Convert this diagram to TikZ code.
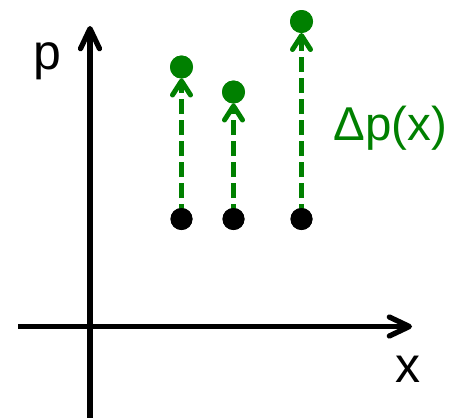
\documentclass[tikz,border=0pt]{standalone}
\usepackage{fontspec}
\setmainfont{Liberation Sans}
\usetikzlibrary{arrows.meta}
\definecolor{dgreen}{HTML}{008000}
\begin{document}
\begin{tikzpicture}[x=1pt,y=-1pt,
  axis/.style={line width=5.3pt, -{Straight Barb[length=20pt,width=19pt,round]}},
  dasharrow/.style={dgreen, line width=5pt, dash pattern=on 15pt off 6pt, -{Straight Barb[length=14pt,width=18pt,round]}},
  bdot/.style={circle, fill=black, minimum size=22pt, inner sep=0pt, outer sep=0pt},
  gdot/.style={circle, fill=dgreen, minimum size=23pt, inner sep=0pt, outer sep=0pt},
  lbl/.style={inner sep=0pt, anchor=base, font=\fontsize{50}{60}\selectfont}]
\useasboundingbox (0,0) rectangle (461,418);
% axes
\coordinate (ybot) at (90,418);
\coordinate (ytop) at (90,26);
\coordinate (xl) at (18,326.5);
\coordinate (xr) at (412,326.5);
\draw[axis] (ybot) -- (ytop);
\draw[axis] (xl) -- (xr);
\node[lbl] (plabel) at (47,69) {p};
\node[lbl] (xlabel) at (408,382) {x};
% dots
\node[bdot] (b1) at (181.5,219) {};
\node[bdot] (b2) at (233.5,219) {};
\node[bdot] (b3) at (301.5,219) {};
\node[gdot] (g1) at (181.5,67) {};
\node[gdot] (g2) at (233.5,92) {};
\node[gdot] (g3) at (301.5,21.5) {};
\draw[dasharrow] (b1.center) -- (g1.south);
\draw[dasharrow] (b2.center) -- (g2.south);
\draw[dasharrow] (b3.center) -- (g3.south);
\node[bdot] at (b1) {};
\node[bdot] at (b2) {};
\node[bdot] at (b3) {};
\node[gdot] at (g1) {};
\node[gdot] at (g2) {};
\node[gdot] at (g3) {};
\node[lbl, text=dgreen, font=\fontsize{47.5}{57}\selectfont] (dlabel) at (390.5,140) {Δp(x)};
\end{tikzpicture}
\end{document}
